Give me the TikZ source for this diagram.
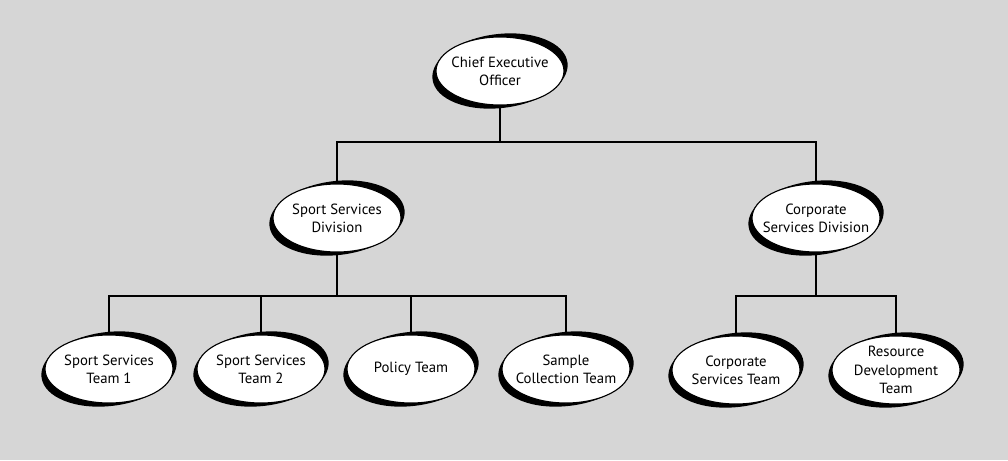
\documentclass[tikz,border=0pt]{standalone}
\usepackage{fontspec}
\setmainfont{PT Sans}
\pgfdeclarelayer{back}
\pgfsetlayers{back,main}

\begin{document}
\begin{tikzpicture}[x=0.25mm,y=0.25mm,
	unit/.style={align=center,font=\fontsize{10.5}{13}\selectfont},
	link/.style={line width=1.1pt},
	swoosh/.style={fill=black},
	face/.style={fill=white,draw=black,line width=0.8pt}]
	\useasboundingbox (0,0) rectangle (1008,-460);

	% units
	\node[unit] (ceo) at (500,-71) {Chief Executive\\Officer};
	\node[unit] (ssd) at (337,-218) {Sport Services\\Division};
	\node[unit] (csd) at (816,-218) {Corporate\\Services Division};

	\node[unit] (sst1) at (109,-369) {Sport Services\\Team 1};
	\node[unit] (sst2) at (261,-369) {Sport Services\\Team 2};
	\node[unit] (policy) at (411,-369) {Policy Team};
	\node[unit] (sample) at (566,-369) {Sample\\Collection Team};
	\node[unit] (cst) at (736,-370) {Corporate\\Services Team};
	\node[unit] (rdt) at (896,-370) {Resource\\Development\\Team};

	% bus points
	\coordinate (topbus) at (500,-142);
	\coordinate (ssdbus) at (337,-296);
	\coordinate (csdbus) at (816,-296);

	\begin{pgfonlayer}{back}
	  \fill[black!16] (0,0) rectangle (1008,-460);

	  \draw[link] (ceo) -- (topbus) -| (ssd);
	  \draw[link] (topbus) -| (csd);
	  \draw[link] (ssd) -- (ssdbus);
	  \draw[link] (csd) -- (csdbus);
	  \foreach \t in {sst1,sst2,policy,sample}{
	    \draw[link] (ssdbus) -| (\t);
	  }
	  \foreach \t in {cst,rdt}{
	    \draw[link] (csdbus) -| (\t);
	  }

	  \foreach \n in {ceo,ssd,csd,sst1,sst2,policy,sample,cst,rdt}{
	    \fill[swoosh, rotate around={7:(\n.center)}] (\n.center) ellipse [x radius=68, y radius=37];
	    \filldraw[face] (\n.center) ellipse [x radius=64, y radius=34];
	  }
	\end{pgfonlayer}
\end{tikzpicture}
\end{document}
